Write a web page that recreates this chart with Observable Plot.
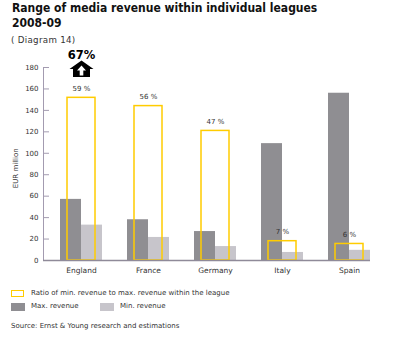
<!DOCTYPE html>
<html><head><meta charset="utf-8">
<script src="https://cdn.jsdelivr.net/npm/d3@7"></script>
<script src="https://cdn.jsdelivr.net/npm/@observablehq/plot@0.6"></script>
<style>
body{margin:0;width:400px;height:342px;position:relative;background:#fff;font-family:"DejaVu Sans",sans-serif;color:#333;overflow:hidden}
.abs{position:absolute;white-space:nowrap}
#title{left:12px;top:1px;font-weight:bold;font-size:12px;line-height:15px;color:#111;font-family:"DejaVu Sans Condensed","DejaVu Sans",sans-serif;font-stretch:condensed}
#sub{left:11px;top:35px;font-size:8.7px;letter-spacing:0.3px}
#chart{left:0;top:47px}
.lt{font-size:7px;line-height:9px}
.sw{position:absolute;box-sizing:border-box}
</style></head>
<body>
<div id="title" class="abs">Range of media revenue within individual leagues<br>2008-09</div>
<div id="sub" class="abs">( Diagram 14)</div>
<div id="chart" class="abs"></div>
<div class="sw" style="left:11px;top:290px;width:13px;height:7px;border:1.5px solid #ffcc00"></div>
<div class="abs lt" style="left:31px;top:289px">Ratio of min. revenue to max. revenue within the league</div>
<div class="sw" style="left:11px;top:303px;width:14px;height:8px;background:#8f8e92"></div>
<div class="abs lt" style="left:31px;top:302px">Max. revenue</div>
<div class="sw" style="left:100px;top:303px;width:14px;height:8px;background:#c7c5cb"></div>
<div class="abs lt" style="left:120px;top:302px">Min. revenue</div>
<div class="abs lt" style="left:11px;top:322px">Source: Ernst &amp; Young research and estimations</div>
<script>
const leagues = ["England", "France", "Germany", "Italy", "Spain"];
const maxRevenue = [57, 38, 27, 109, 156];
const minRevenue = [33, 21.5, 13, 7.5, 9.5];
const ratioPct = [59, 56, 47, 7, 6];
const yTicks = [0, 20, 40, 60, 80, 100, 120, 140, 160, 180];
const yLabel = "EUR million";
const highlightLabel = "67%";
const ratioAxisMax = 70; // 70 % corresponds to the top of the EUR axis (180)

const yMax = 180;
const data = leagues.map((league, i) => ({
  league, max: maxRevenue[i], min: minRevenue[i], ratio: ratioPct[i],
  ratioY: ratioPct[i] * yMax / ratioAxisMax
}));

const house = {draw(c){
  c.moveTo(0,-8.5); c.lineTo(12,0); c.lineTo(8.5,0); c.lineTo(8.5,8);
  c.lineTo(-8.5,8); c.lineTo(-8.5,0); c.lineTo(-12,0); c.closePath();
}};
const inner = {draw(c){
  c.moveTo(0,-3.5); c.lineTo(4.5,1.5); c.lineTo(1.8,1.5); c.lineTo(1.8,6.5);
  c.lineTo(-1.8,6.5); c.lineTo(-1.8,1.5); c.lineTo(-4.5,1.5); c.closePath();
}};

const axisCol = "#a39bb0";
const chart = Plot.plot({
  width: 400, height: 236,
  marginLeft: 43, marginRight: 30, marginTop: 20, marginBottom: 23,
  style: {fontFamily: "DejaVu Sans, sans-serif", fontSize: "7px", color: "#333", background: "#fff"},
  x: {domain: leagues, paddingInner: 0.38, paddingOuter: 0.1033, align: 1, axis: null, label: null},
  y: {domain: [0, yMax], axis: null, label: null},
  marks: [
    Plot.frame({anchor: "left", stroke: axisCol}),
    Plot.axisY({ticks: yTicks, tickSize: 6, dx: 6, tickPadding: 5, stroke: axisCol, fill: "#333", fontSize: 7, label: null}),
    Plot.axisX({tickSize: 0, tickPadding: 7, fill: "#333", fontSize: 7.5, label: null}),
    Plot.text([yLabel], {frameAnchor: "left", y: () => 86, dx: -28, rotate: -90, textAnchor: "middle", text: d => d, fill: "#333", fontSize: 7}),
    Plot.barY(data, {x: "league", y: "max", fill: "#8f8e92", insetRight: 21}),
    Plot.barY(data, {x: "league", y: "min", fill: "#c7c5cb", insetLeft: 21}),
    Plot.barY(data, {x: "league", y: "ratioY", fill: "none", stroke: "#ffcc00", strokeWidth: 1.5, insetLeft: 7, insetRight: 7}),
    Plot.ruleY([0], {stroke: "#8f8a99", strokeWidth: 1.5}),
    Plot.text(data, {x: "league", y: "ratioY", text: d => `${d.ratio} %`, dy: -9, fill: "#333", fontSize: 7}),
    Plot.dot([leagues[0]], {x: d => d, frameAnchor: "top", dy: 1.5, symbol: house, fill: "#000", stroke: "none", r: 8}),
    Plot.dot([leagues[0]], {x: d => d, frameAnchor: "top", dy: 1.5, symbol: inner, fill: "#fff", stroke: "none", r: 8}),
    Plot.text([leagues[0]], {x: d => d, frameAnchor: "top", dy: -17, text: () => highlightLabel, fontWeight: "bold", fontSize: 11.5, fill: "#000"})
  ]
});
document.getElementById("chart").appendChild(chart);
</script>
</body></html>
